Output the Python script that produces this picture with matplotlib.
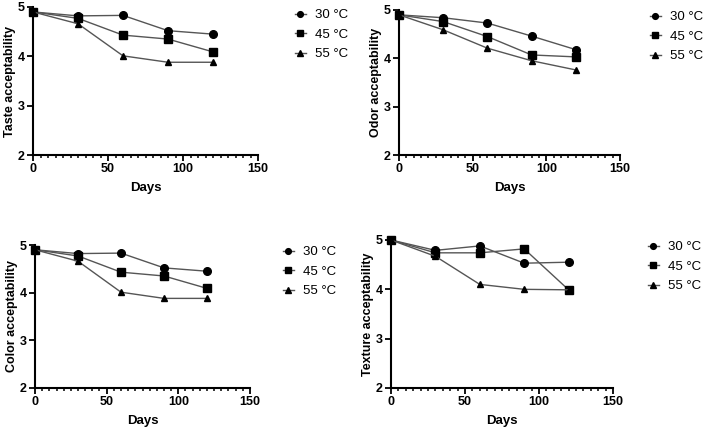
import matplotlib
matplotlib.use("Agg")
import matplotlib.pyplot as plt
from matplotlib.ticker import MultipleLocator

plt.rcParams['font.family'] = ['Liberation Sans', 'DejaVu Sans']

days = [0, 30, 60, 90, 120]
temps = ["30 °C", "45 °C", "55 °C"]
markers = ["o", "s", "^"]

taste_30 = [4.90, 4.82, 4.83, 4.52, 4.45]
taste_45 = [4.90, 4.77, 4.43, 4.35, 4.09]
taste_55 = [4.90, 4.66, 4.01, 3.88, 3.88]

odor_30 = [4.90, 4.84, 4.73, 4.46, 4.18]
odor_45 = [4.90, 4.76, 4.45, 4.07, 4.03]
odor_55 = [4.90, 4.59, 4.21, 3.95, 3.76]

color_30 = [4.90, 4.82, 4.83, 4.52, 4.45]
color_45 = [4.90, 4.77, 4.43, 4.35, 4.09]
color_55 = [4.90, 4.66, 4.01, 3.88, 3.88]

texture_30 = [5.00, 4.79, 4.88, 4.53, 4.55]
texture_45 = [5.00, 4.74, 4.74, 4.82, 3.99]
texture_55 = [5.00, 4.67, 4.10, 4.00, 3.99]

panels = [
    ("Taste acceptability", [taste_30, taste_45, taste_55]),
    ("Odor acceptability", [odor_30, odor_45, odor_55]),
    ("Color acceptability", [color_30, color_45, color_55]),
    ("Texture acceptability", [texture_30, texture_45, texture_55]),
]

W, H = 709, 430
# axes rects in pixels: left, right, top, bottom
rects = [(33, 258, 7, 155), (399, 620, 10, 155), (35, 250, 245, 388), (391, 613, 240, 388)]
legend_anchor = [(295, 9), (650, 11), (283, 246), (648, 241)]

fig = plt.figure(figsize=(W / 100, H / 100), dpi=100)
for (ylabel, series), (l, r, t, b), (lx, ly) in zip(panels, rects, legend_anchor):
    ax = fig.add_axes([l / W, 1 - b / H, (r - l) / W, (b - t) / H])
    for vals, m, lab in zip(series, markers, temps):
        ax.plot(days, vals, color="#555555", lw=1.0, marker=m, ms=5.5 if m != "^" else 5,
                mfc="black", mec="black", label=lab, clip_on=False, zorder=3)
    ax.set_xlim(0, 150)
    ax.set_ylim(2, 5)
    ax.xaxis.set_major_locator(MultipleLocator(50))
    ax.xaxis.set_minor_locator(MultipleLocator(5))
    ax.yaxis.set_major_locator(MultipleLocator(1))
    for s in ["top", "right"]:
        ax.spines[s].set_visible(False)
    for s in ["left", "bottom"]:
        ax.spines[s].set_linewidth(1.5)
    ax.tick_params(axis="both", which="major", length=4, width=1.3, labelsize=9, pad=2)
    ax.tick_params(axis="x", which="minor", length=2.5, width=1.1)
    for lbl in ax.get_xticklabels() + ax.get_yticklabels():
        lbl.set_fontweight("bold")
    ax.set_xlabel("Days", fontsize=9.5, fontweight="bold", labelpad=5)
    ax.set_ylabel(ylabel, fontsize=9, fontweight="bold", labelpad=1)
    ax.legend(loc="upper left", bbox_to_anchor=(lx / W, 1 - ly / H), bbox_transform=fig.transFigure,
              frameon=False, fontsize=9.5, handlelength=0.8, handletextpad=0.7,
              labelspacing=0.55, markerscale=0.75, borderpad=0, borderaxespad=0)

fig.savefig("out.png", dpi=100)
